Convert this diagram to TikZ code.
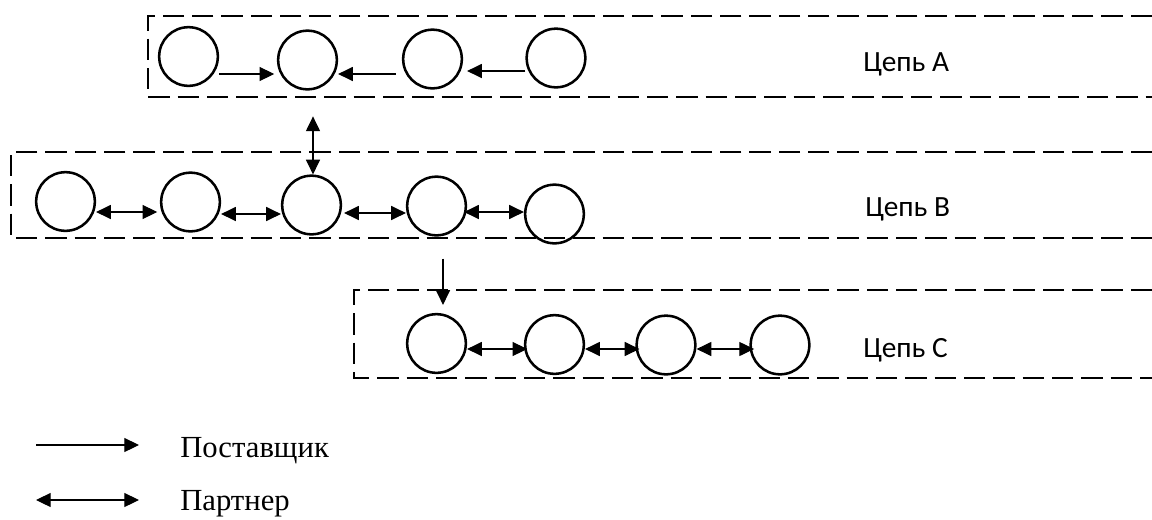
\documentclass[tikz,border=0pt]{standalone}
\usepackage{fontspec}
\setmainfont{Liberation Serif}
\newfontfamily\lblfont{Carlito}
\usetikzlibrary{arrows.meta,calc}
\begin{document}
\begin{tikzpicture}[x=0.75pt,y=-0.75pt,
  agent/.style={circle,draw,line width=1.9pt,minimum size=44pt,inner sep=0pt},
  chainbox/.style={line width=2.1pt,dash pattern=on 16pt off 6pt},
  sup/.style={line width=0.8pt,-{Triangle[length=11pt,width=10.5pt]}},
  par/.style={line width=0.8pt,{Triangle[length=11pt,width=10.5pt]}-{Triangle[length=11pt,width=10.5pt]}},
  chainlbl/.style={anchor=base west,font=\lblfont\fontsize{22pt}{26pt}\selectfont,inner sep=0pt},
  leglbl/.style={anchor=base west,font=\fontsize{23pt}{27pt}\selectfont,inner sep=0pt}]
\useasboundingbox (0,0) rectangle (1152,519);
% chain boxes
\draw[chainbox] (1152,16) -- (148,16) -- (148,97) -- (1152,97);
\draw[chainbox] (1152,152) -- (11,152) -- (11,238) -- (1152,238);
\draw[chainbox] (1152,290) -- (354,290) -- (354,378) -- (1152,378);
% chain A
\node[agent] (A1) at (188.5,56.5) {};
\node[agent] (A2) at (307.5,60) {};
\node[agent] (A3) at (432.5,59) {};
\node[agent] (A4) at (556,58) {};
% chain B
\node[agent] (B1) at (65.5,201.5) {};
\node[agent] (B2) at (190.5,202) {};
\node[agent] (B3) at (311.5,205) {};
\node[agent] (B4) at (436.5,206) {};
\node[agent] (B5) at (554.5,214) {};
% chain C
\node[agent] (C1) at (436.5,343.5) {};
\node[agent] (C2) at (554.5,344.5) {};
\node[agent] (C3) at (666,345) {};
\node[agent] (C4) at (780,345) {};
% labels
\node[chainlbl] (LA) at (863,71) {Цепь A};
\node[chainlbl] (LB) at (865,216) {Цепь B};
\node[chainlbl] (LC) at (863,357) {Цепь C};
% chain A arrows
\draw[sup] let \p1=($(A1.east)+(0,17.5)$), \p2=(A2.west) in (\p1) -- (\x2-2pt,\y1);
\draw[sup] let \p1=($(A3.west)+(-6,15)$), \p2=(A2.east) in (\p1) -- (\x2,\y1);
\draw[sup] let \p1=($(A4.west)+(0,13)$), \p2=(A3.east) in (\p1) -- (\x2+3pt,\y1);
% chain B arrows
\draw[par] let \p1=($(B1.east)+(0,10.5)$), \p2=(B2.west) in (\p1) -- (\x2-2pt,\y1);
\draw[par] let \p1=($(B2.east)+(0,12)$), \p2=(B3.west) in (\p1) -- (\x2,\y1);
\draw[par] let \p1=($(B3.east)+(2,8)$), \p2=(B4.west) in (\p1) -- (\x2,\y1);
\draw[par] let \p1=($(B4.east)+(-3,6)$), \p2=(B5.west) in (\p1) -- (\x2,\y1);
% chain C arrows
\draw[par] let \p1=($(C1.east)+(0,5.5)$), \p2=(C2.west) in (\p1) -- (\x2+2.5pt,\y1);
\draw[par] let \p1=($(C2.east)+(0,4.5)$), \p2=(C3.west) in (\p1) -- (\x2+3pt,\y1);
\draw[par] let \p1=($(C3.east)+(0,4)$), \p2=(C4.west) in (\p1) -- (\x2+3.5pt,\y1);
% links between chains
\draw[par] ($(B3.north)+(1.5,-58)$) -- ($(B3.north)+(1.5,0)$);
\draw[sup] ($(B4.south)+(6.5,22)$) -- ($(C1.north)+(6.5,-8)$);
% legend
\coordinate (L1a) at (36,445);
\coordinate (L1b) at (139,445);
\coordinate (L2a) at (36,500);
\coordinate (L2b) at (139,500);
\draw[sup] (L1a) -- (L1b);
\draw[par] (L2a) -- (L2b);
\node[leglbl] (T1) at (180,457) {Поставщик};
\node[leglbl] (T2) at (180,510.5) {Партнер};
\end{tikzpicture}
\end{document}
